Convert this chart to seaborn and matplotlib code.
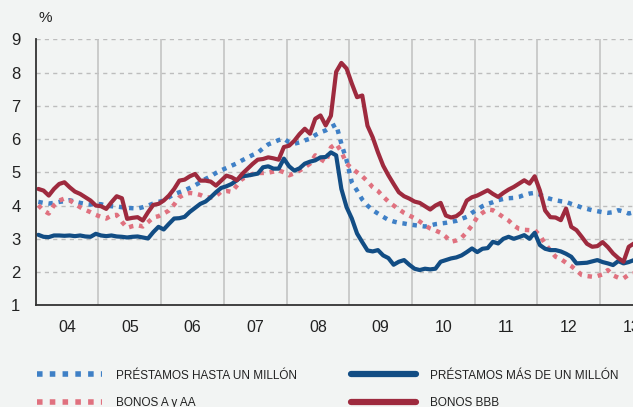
import numpy as np
import pandas as pd
import seaborn as sns
import matplotlib.pyplot as plt
from matplotlib.lines import Line2D
from matplotlib.ticker import FixedLocator, NullFormatter

# monthly series, Jan 2004 onwards (%)
hasta_millon = [4.11, 4.08, 4.06, 4.08, 4.11, 4.13, 4.16, 4.12, 4.08, 4.05, 4.03, 4.05,
                4.04, 4.00, 3.98, 3.97, 3.95, 3.93, 3.92, 3.91, 3.95, 4.00, 4.06, 4.11,
                4.15, 4.25, 4.34, 4.40, 4.46, 4.53, 4.61, 4.70, 4.80, 4.88, 4.98, 5.06,
                5.13, 5.20, 5.27, 5.36, 5.44, 5.52, 5.59, 5.72, 5.84, 5.90, 5.97, 6.01,
                5.90, 5.86, 5.90, 5.96, 6.01, 6.12, 6.20, 6.26, 6.36, 6.44, 5.86, 5.36,
                4.70, 4.45, 4.18, 4.00, 3.86, 3.76, 3.66, 3.57, 3.52, 3.48, 3.46, 3.43,
                3.41, 3.39, 3.37, 3.40, 3.44, 3.46, 3.48, 3.51, 3.54, 3.60, 3.66, 3.78,
                3.88, 3.98, 4.05, 4.10, 4.16, 4.20, 4.22, 4.23, 4.26, 4.32, 4.36, 4.38,
                4.33, 4.25, 4.20, 4.16, 4.13, 4.11, 4.05, 4.00, 3.94, 3.90, 3.86, 3.83,
                3.80, 3.78, 3.80, 3.86, 3.82, 3.76, 3.80]
bonos_a_aa = [4.01, 3.85, 3.76, 4.01, 4.15, 4.21, 4.16, 4.05, 3.95, 3.87, 3.80, 3.72,
              3.66, 3.61, 3.70, 3.72, 3.51, 3.33, 3.38, 3.41, 3.37, 3.50, 3.64, 3.68,
              3.76, 3.85, 4.03, 4.25, 4.34, 4.38, 4.36, 4.32, 4.25, 4.24, 4.28, 4.42,
              4.44, 4.41, 4.60, 4.80, 4.87, 4.95, 4.98, 4.98, 4.99, 5.02, 5.06, 5.00,
              4.91, 4.97, 5.05, 5.15, 5.26, 5.51, 5.40, 5.30, 5.75, 5.86, 5.62, 5.26,
              5.12, 5.00, 4.88, 4.73, 4.55, 4.44, 4.27, 4.12, 4.00, 3.89, 3.78, 3.70,
              3.62, 3.52, 3.40, 3.31, 3.25, 3.18, 3.06, 2.91, 2.95, 3.03, 3.20, 3.40,
              3.65, 3.78, 3.88, 3.86, 3.76, 3.65, 3.55, 3.40, 3.30, 3.27, 3.26, 3.26,
              3.10, 2.85, 2.65, 2.46, 2.39, 2.28, 2.18, 2.05, 1.91, 1.88, 1.86, 1.88,
              1.93, 2.06, 1.90, 1.83, 1.81, 1.92, 1.96]
mas_millon = [3.12, 3.06, 3.05, 3.10, 3.10, 3.09, 3.10, 3.08, 3.10, 3.07, 3.06, 3.15,
              3.10, 3.08, 3.10, 3.07, 3.06, 3.04, 3.06, 3.07, 3.04, 3.01, 3.20, 3.36,
              3.28, 3.45, 3.61, 3.62, 3.66, 3.81, 3.93, 4.05, 4.12, 4.25, 4.40, 4.53,
              4.58, 4.65, 4.76, 4.88, 4.90, 4.93, 4.96, 5.15, 5.18, 5.11, 5.11, 5.41,
              5.18, 5.05, 5.12, 5.26, 5.32, 5.36, 5.45, 5.46, 5.60, 5.51, 4.50, 3.95,
              3.61, 3.16, 2.90, 2.65, 2.62, 2.66, 2.50, 2.42, 2.22, 2.31, 2.36, 2.22,
              2.10, 2.06, 2.10, 2.08, 2.10, 2.31, 2.36, 2.41, 2.44, 2.50, 2.60, 2.71,
              2.60, 2.70, 2.72, 2.91, 2.86, 3.00, 3.06, 3.00, 3.05, 3.11, 3.00, 3.18,
              2.81, 2.70, 2.66, 2.66, 2.62, 2.55, 2.46, 2.26, 2.27, 2.28, 2.32, 2.36,
              2.30, 2.26, 2.21, 2.33, 2.26, 2.30, 2.36]
bonos_bbb = [4.50, 4.45, 4.30, 4.50, 4.65, 4.70, 4.55, 4.42, 4.35, 4.25, 4.15, 4.00,
             3.98, 3.90, 4.10, 4.28, 4.22, 3.60, 3.63, 3.65, 3.55, 3.80, 4.02, 4.05,
             4.15, 4.30, 4.50, 4.75, 4.78, 4.88, 4.95, 4.75, 4.75, 4.72, 4.60, 4.75,
             4.90, 4.85, 4.76, 4.95, 5.10, 5.25, 5.38, 5.40, 5.45, 5.42, 5.38, 5.76,
             5.80, 5.95, 6.15, 6.31, 6.16, 6.61, 6.71, 6.41, 6.70, 8.02, 8.29, 8.12,
             7.67, 7.26, 7.31, 6.40, 6.05, 5.60, 5.20, 4.91, 4.65, 4.40, 4.28, 4.21,
             4.12, 4.08, 3.98, 3.88, 4.00, 4.08, 3.70, 3.64, 3.68, 3.80, 4.15, 4.25,
             4.30, 4.38, 4.46, 4.35, 4.26, 4.38, 4.48, 4.56, 4.66, 4.76, 4.66, 4.88,
             4.45, 3.85, 3.65, 3.64, 3.56, 3.91, 3.36, 3.26, 3.06, 2.85, 2.76, 2.78,
             2.90, 2.75, 2.56, 2.42, 2.31, 2.76, 2.86]

year_labels = ['04', '05', '06', '07', '08', '09', '10', '11', '12', '13']
labels = ['PRÉSTAMOS HASTA UN MILLÓN', 'BONOS A y AA',
          'PRÉSTAMOS MÁS DE UN MILLÓN', 'BONOS BBB']

n = len(bonos_bbb)
t = 2004 + (np.arange(n) + 0.5) / 12
df = pd.DataFrame({'t': t, 'hasta': hasta_millon, 'aaa': bonos_a_aa,
                   'mas': mas_millon, 'bbb': bonos_bbb})

bg = '#f2f4f3'
c_hasta = '#3f80c6'
c_aaa = '#e0717f'
c_mas = '#124d84'
c_bbb = '#9e2a3e'
dots = (0, (1, 1.3))

sns.set_theme(style='white')
plt.rcParams['font.family'] = ['Liberation Sans', 'DejaVu Sans']

fig = plt.figure(figsize=(6.33, 4.07), dpi=100, facecolor=bg)
ax = fig.add_axes([0.0564, 0.2499, 0.9436, 0.6535], facecolor=bg)

sns.lineplot(data=df, x='t', y='hasta', ax=ax, color=c_hasta, lw=3.2, linestyle=dots)
sns.lineplot(data=df, x='t', y='aaa', ax=ax, color=c_aaa, lw=3.2, linestyle=dots)
sns.lineplot(data=df, x='t', y='mas', ax=ax, color=c_mas, lw=3.0)
sns.lineplot(data=df, x='t', y='bbb', ax=ax, color=c_bbb, lw=3.0)

ax.set_xlim(2004, 2004 + (633 - 35.7) / 62.7)
ax.set_ylim(1, 9)
ax.set_xlabel('')
ax.set_ylabel('')

for y in range(2, 10):
    ax.axhline(y, color='#bdbdbd', lw=1.0, ls=(0, (3, 3)), zorder=0)
for yr in range(2005, 2014):
    ax.axvline(yr, color='#c4c4c4', lw=1.2, zorder=0)

ax.xaxis.set_major_locator(FixedLocator(range(2004, 2014)))
ax.xaxis.set_major_formatter(NullFormatter())
ax.xaxis.set_minor_locator(FixedLocator([y + 0.5 for y in range(2004, 2014)]))
ax.set_xticklabels(year_labels, minor=True)
ax.tick_params(axis='x', which='major', direction='in', length=4, width=1.2, color='#333333')
ax.tick_params(axis='x', which='minor', length=0, pad=10.5, labelsize=11.5, labelcolor='#222222')
ax.set_yticks(range(1, 10))
ax.tick_params(axis='y', direction='in', length=4, width=1.2, color='#333333', pad=11,
               labelsize=12, labelcolor='#222222')

sns.despine(ax=ax, top=True, right=True)
for s in ['left', 'bottom']:
    ax.spines[s].set_color('#333333')
    ax.spines[s].set_linewidth(1.3)

fig.text(0.0715, 0.955, '%', fontsize=11, color='#222222', ha='center', va='center')

handles = [Line2D([], [], color=c_hasta, lw=4, linestyle=dots),
           Line2D([], [], color=c_aaa, lw=4, linestyle=dots),
           Line2D([], [], color=c_mas, lw=4.5),
           Line2D([], [], color=c_bbb, lw=4.5)]
fig.legend(handles, labels, ncol=2, loc='upper left', bbox_to_anchor=(0.058, 0.092),
           frameon=False, handlelength=5.5, handletextpad=1.2, columnspacing=4.6,
           labelspacing=1.29, borderaxespad=0, borderpad=0,
           prop={'size': 8.5}, labelcolor='#222222')

fig.savefig('out.png', dpi=100, facecolor=bg)
